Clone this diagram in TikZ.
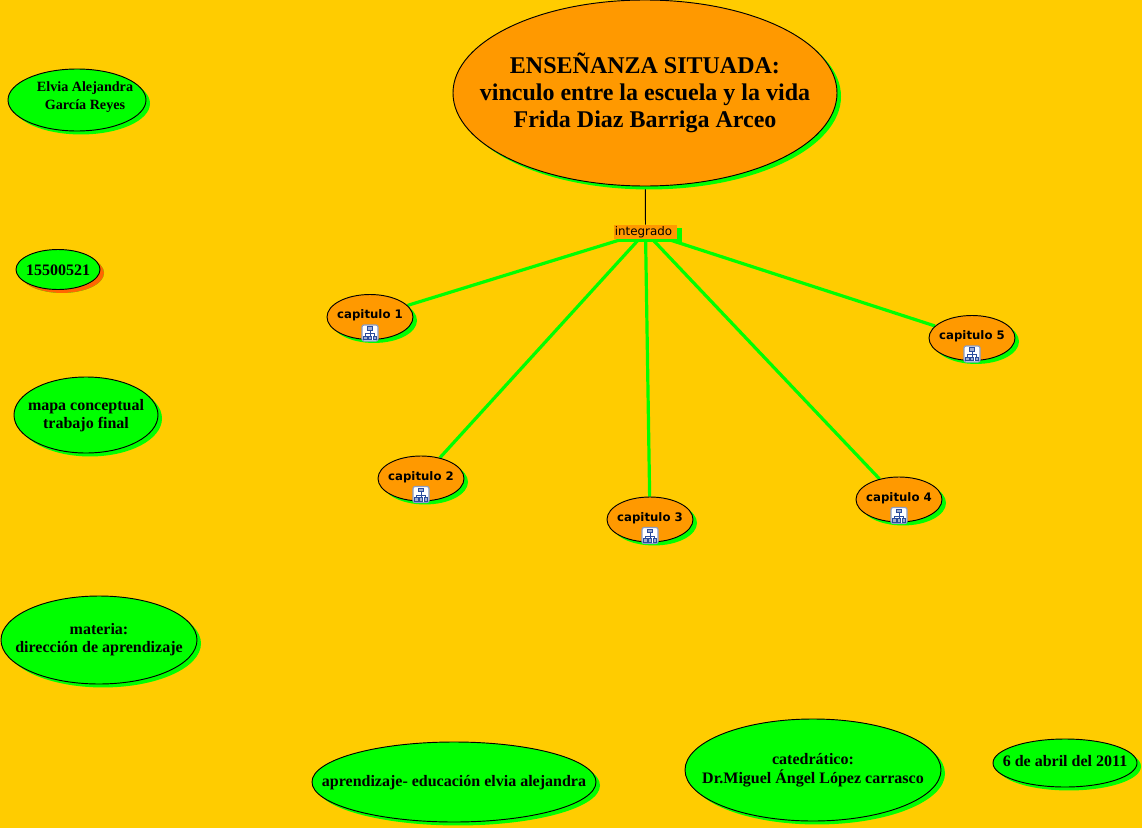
\documentclass[tikz,border=0pt]{standalone}
\usepackage{fontspec}
\setmainfont{Liberation Serif}
\newfontfamily\capfont{DejaVu Sans}
\usetikzlibrary{shapes.geometric,shadows}
\pgfdeclarelayer{bg}
\pgfsetlayers{bg,main}
\definecolor{bgc}{HTML}{FFCC00}
\definecolor{orng}{HTML}{FF9900}
\definecolor{grn}{HTML}{00FF00}
\definecolor{redo}{HTML}{FF6600}
\definecolor{iconblue}{HTML}{2A4C9C}
% zero-size label, moved by #1/2 (x) and #2 (y, up) from the centre of the ellipse,
% so that the ellipse keeps its given size whatever the text
\newcommand{\lbl}[3]{\hspace*{#1}\makebox[0pt]{\raisebox{\dimexpr#2-0.25em\relax}[0pt][0pt]{\begin{tabular}{@{}c@{}}#3\end{tabular}}}}
\tikzset{
  ell/.style 2 args={ellipse,draw=black,line width=0.7pt,inner sep=0pt,
    minimum width=#1*0.75pt,minimum height=#2*0.75pt},
  shad/.style={general shadow={fill=#1,shadow xshift=3pt,shadow yshift=-2.6pt}},
  author/.style={fill=grn,font=\bfseries\fontsize{12}{13.5}\selectfont,shad=grn},
  capit/.style={ell={86}{45},fill=orng,font=\capfont\bfseries\fontsize{8.8}{11}\selectfont,
    shad=grn},
  linkbox/.style={fill=orng,inner sep=0pt,minimum width=47pt,minimum height=10.5pt,
    font=\capfont\fontsize{8.9}{10}\selectfont,
    general shadow={fill=grn,shadow xshift=3.6pt,shadow yshift=-2.2pt}},
  greenlink/.style={draw=grn,line width=2.4pt},
  blacklink/.style={draw=black,line width=0.7pt},
  pics/treeicon/.style={code={
    \draw[draw=iconblue!55!white,fill=white,rounded corners=1.5pt,line width=0.9pt] (-8,-8) rectangle (8,8);
    \draw[iconblue,line width=0.6pt] (0,-3) -- (0,3) (-4.5,3) -- (-4.5,0.5) -- (4.5,0.5) -- (4.5,3);
    \draw[iconblue,fill=iconblue!45!white,line width=0.6pt]
      (-2.2,-6.5) rectangle (2.2,-3) (-6.5,3) rectangle (-3,6.5) (-1.7,3) rectangle (1.7,6.5) (3,3) rectangle (6.5,6.5);
  }}
}
\begin{document}
\begin{tikzpicture}[x=0.75pt,y=-0.75pt]
\useasboundingbox (0,0) rectangle (1142,828);
\begin{pgfonlayer}{bg}
\fill[bgc] (0,0) rectangle (1142,828);
\end{pgfonlayer}
\node[ell={384}{186},fill=orng,shad=grn,font=\bfseries\fontsize{18}{20.25}\selectfont] (title) at (645,93)
  {\lbl{0pt}{-0.75pt}{ENSEÑANZA SITUADA:\\vinculo entre la escuela y la vida\\Frida Diaz Barriga Arceo}};
\node[linkbox] (link) at (645.5,232) {\hspace*{-3pt}integrado};
\foreach \n/\x/\y in {1/370/317,2/421/478.5,3/650/519.5,4/899/499.5,5/972/338}{
  \node[capit] (cap\n) at (\x,\y) {\lbl{0pt}{0.8pt}{capitulo \n}};
  \path (cap\n.center) ++(0,16) pic {treeicon};
}
\begin{pgfonlayer}{bg}
\draw[blacklink] (title) -- (link);
\foreach \n in {1,...,5}{ \draw[greenlink] (link) -- (cap\n); }
\end{pgfonlayer}
\node[ell={138}{62},author,font=\bfseries\fontsize{10.6}{13.5}\selectfont] (elvia) at (77,100) {\lbl{12pt}{2pt}{Elvia Alejandra\\García Reyes}};
\node[ell={84}{40},author,shad=redo] (num) at (58,269.5) {\lbl{0pt}{-1.5pt}{15500521}};
\node[ell={144}{76},author] (mapa) at (86,415) {\lbl{0pt}{-0.75pt}{mapa conceptual\\trabajo final}};
\node[ell={196}{88},author] (materia) at (99,640) {\lbl{0pt}{0pt}{materia:\\dirección de aprendizaje}};
\node[ell={284}{80},author] (apr) at (454,782) {\lbl{0pt}{-0.75pt}{aprendizaje- educación elvia alejandra}};
\node[ell={256}{102},author] (cat) at (813,770) {\lbl{0pt}{-0.4pt}{catedrático:\\Dr.Miguel Ángel López carrasco}};
\node[ell={144}{48},author] (fecha) at (1065,763) {\lbl{0pt}{0pt}{6 de abril del 2011}};
\end{tikzpicture}
\end{document}
